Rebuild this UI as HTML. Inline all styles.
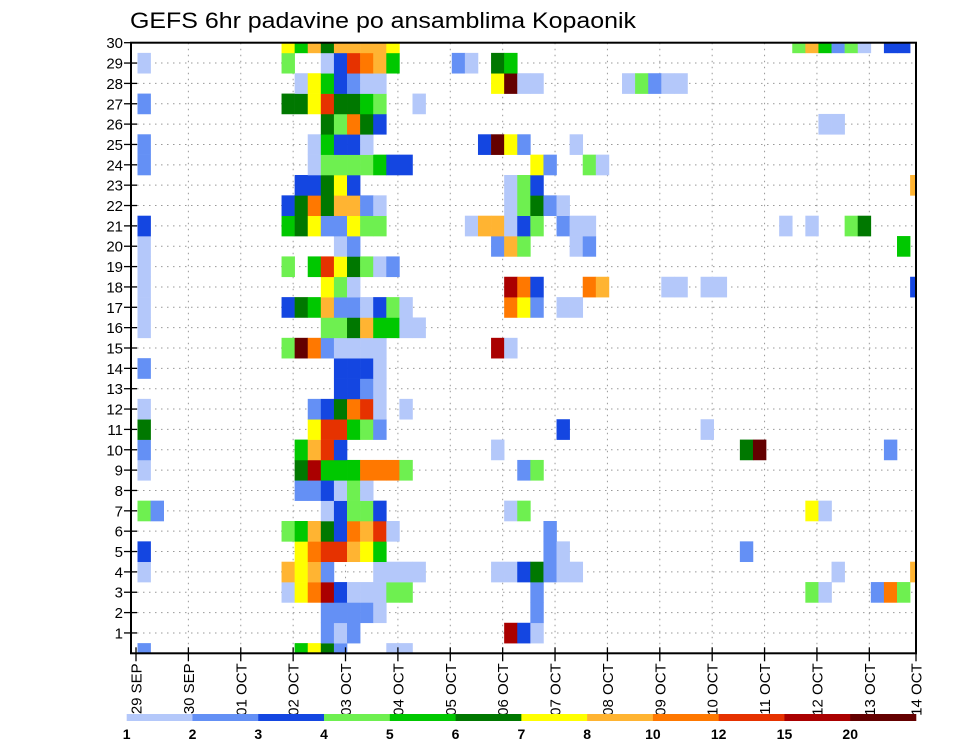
<!DOCTYPE html>
<html>
<head>
<meta charset="utf-8">
<style>
  html,body{margin:0;padding:0;background:#fff;}
  svg{display:block;font-family:"Liberation Sans",sans-serif;}
</style>
</head>
<body>
<svg id="chart" width="960" height="742" viewBox="0 0 960 742" xmlns="http://www.w3.org/2000/svg">
  <text x="130" y="28" font-size="22" textLength="506" lengthAdjust="spacingAndGlyphs" fill="#000">GEFS 6hr padavine po ansamblima Kopaonik</text>
  <g id="grid"></g>
  <g id="cells"></g>
  <g id="axes"></g>
  <g id="legend"></g>
</svg>
<script>
// ---- data ----
const dayLabels = ["29 SEP","30 SEP","01 OCT","02 OCT","03 OCT","04 OCT","05 OCT","06 OCT","07 OCT","08 OCT","09 OCT","10 OCT","11 OCT","12 OCT","13 OCT","14 OCT"];
const memberTicks = [1,2,3,4,5,6,7,8,9,10,11,12,13,14,15,16,17,18,19,20,21,22,23,24,25,26,27,28,29,30];
const binLabels = ["1","2","3","4","5","6","7","8","10","12","15","20"];
const binColors = ["#b4c8fa","#6490f5","#1446e1","#6ef050","#00c800","#007800","#ffff00","#ffb432","#ff7800","#e63200","#aa0000","#640000"];
const binCodes = "123456789ABC";
// per ensemble member (index 0..30): "step:bin" pairs, step = 6h index from 29 SEP 00z
const memberCells = [
/*0*/  "0:2 12:5 13:7 14:6 15:2 19:1 20:1",
/*1*/  "14:2 15:1 16:2 28:B 29:3 30:1",
/*2*/  "14:2 15:2 16:2 17:2 18:1 30:2",
/*3*/  "11:1 12:7 13:9 14:B 15:3 16:1 17:1 18:1 19:4 20:4 30:2 51:4 52:1 56:2 57:9 58:4",
/*4*/  "0:1 11:8 12:7 13:8 14:2 18:1 19:1 20:1 21:1 27:1 28:1 29:3 30:6 31:2 32:1 33:1 53:1 59:8",
/*5*/  "0:3 12:7 13:9 14:A 15:A 16:8 17:7 18:5 31:2 32:1 46:2",
/*6*/  "11:4 12:5 13:8 14:6 15:3 16:9 17:8 18:A 19:1 31:2",
/*7*/  "0:4 1:2 14:1 15:3 16:4 17:4 18:3 28:1 29:4 51:7 52:1",
/*8*/  "12:2 13:2 14:3 15:1 16:4 17:1",
/*9*/  "0:1 12:6 13:B 14:5 15:5 16:5 17:9 18:9 19:9 20:4 29:2 30:4",
/*10*/ "0:2 12:5 13:8 14:A 15:3 27:1 46:6 47:C 57:2",
/*11*/ "0:6 13:7 14:A 15:A 16:5 17:4 18:2 32:3 43:1",
/*12*/ "0:1 13:2 14:3 15:6 16:9 17:A 18:1 20:1",
/*13*/ "15:3 16:3 17:2 18:1",
/*14*/ "0:2 15:3 16:3 17:3 18:1",
/*15*/ "11:4 12:C 13:9 14:2 15:1 16:1 17:1 18:1 27:B 28:1",
/*16*/ "0:1 14:4 15:4 16:6 17:8 18:5 19:5 20:1 21:1",
/*17*/ "0:1 11:3 12:6 13:5 14:8 15:2 16:2 17:1 18:3 19:4 20:1 28:9 29:7 30:2 32:1 33:1",
/*18*/ "0:1 14:7 15:4 16:1 28:B 29:9 30:3 34:9 35:8 40:1 41:1 43:1 44:1 59:3",
/*19*/ "0:1 11:4 13:5 14:A 15:7 16:6 17:4 18:1 19:2",
/*20*/ "0:1 15:1 16:2 27:2 28:8 29:4 33:1 34:2 58:5",
/*21*/ "0:3 11:5 12:6 13:7 14:2 15:2 16:7 17:4 18:4 25:1 26:8 27:8 28:1 29:3 30:4 32:2 33:1 34:1 49:1 51:1 54:4 55:6",
/*22*/ "11:3 12:6 13:9 14:6 15:8 16:8 17:2 18:1 28:1 29:4 30:6 31:2 32:1",
/*23*/ "12:3 13:3 14:6 15:7 16:3 28:1 29:4 30:3 59:8",
/*24*/ "0:2 13:1 14:4 15:4 16:4 17:4 18:5 19:3 20:3 30:7 31:2 34:4 35:1",
/*25*/ "0:2 13:1 14:5 15:3 16:3 17:1 26:3 27:C 28:7 29:2 33:1",
/*26*/ "14:6 15:4 16:9 17:6 18:3 52:1 53:1",
/*27*/ "0:2 11:6 12:6 13:7 14:A 15:6 16:6 17:5 18:4 21:1",
/*28*/ "12:1 13:7 14:5 15:3 16:2 17:1 18:1 27:7 28:C 29:1 30:1 37:1 38:4 39:2 40:1 41:1",
/*29*/ "0:1 11:4 14:1 15:3 16:A 17:9 18:8 19:5 24:2 25:1 27:6 28:5",
/*30*/ "11:7 12:5 13:8 14:6 15:8 16:8 17:8 18:8 19:7 50:4 51:8 52:5 53:2 54:4 55:1 57:3 58:3"
];

// ---- geometry ----
const frameL = 131, frameR = 916, frameT = 42.7, frameB = 653.3;
const day0X = 136, dayW = 52.38, stepW = dayW / 4, cellX0 = 137.5;
const rowH = (frameB - frameT) / 30;
const NS = "http://www.w3.org/2000/svg";
function xDay(d){ return day0X + dayW * d; }
function xStep(k){ return cellX0 + stepW * k; }
function yMember(m){ return frameB - rowH * m; }
function mk(tag, attrs, parent){
  const el = document.createElementNS(NS, tag);
  for (const a in attrs) el.setAttribute(a, attrs[a]);
  parent.appendChild(el);
  return el;
}

// grid lines
const grid = document.getElementById("grid");
memberTicks.forEach(function(m){
  if (m >= 30) return;
  const ln = mk("line", {x1: frameL, x2: frameR, y1: yMember(m), y2: yMember(m), stroke: "#999", "stroke-width": 1, "stroke-dasharray": "1.5,4.5"}, grid);
  
  
});
dayLabels.forEach(function(lbl, d){
  const x = xDay(d);
  if (x <= frameL + 6 || x >= frameR - 2) return;
  const ln = mk("line", {x1: x, x2: x, y1: frameT, y2: frameB, stroke: "#999", "stroke-width": 1, "stroke-dasharray": "1.5,4.5"}, grid);
  
  
});

// cells
const cells = document.getElementById("cells");
const clip = mk("clipPath", {id: "plotclip"}, document.getElementById("chart"));
mk("rect", {x: frameL, y: frameT, width: frameR - frameL, height: frameB - frameT}, clip);
cells.setAttribute("clip-path", "url(#plotclip)");
memberCells.forEach(function(rowStr, m){
  rowStr.split(" ").forEach(function(pair){
    if (!pair) return;
    const parts = pair.split(":");
    const k = parseInt(parts[0], 10);
    const lvl = binCodes.indexOf(parts[1]);
    if (lvl < 0) return;
    const r = mk("rect", {x: xStep(k), y: yMember(m) - rowH/2, width: stepW + 0.3, height: rowH + 0.3, fill: binColors[lvl]}, cells);
    
    
  });
});

// axes
const axes = document.getElementById("axes");
const frame = mk("rect", {x: frameL, y: frameT, width: frameR - frameL, height: frameB - frameT, fill: "none", stroke: "#000", "stroke-width": 2}, axes);


memberTicks.forEach(function(m){
  const y = yMember(m);
  const t = mk("line", {x1: frameL - 7, x2: frameL + 6, y1: y, y2: y, stroke: "#000", "stroke-width": 1.3}, axes);
  
  
  const tx = mk("text", {x: frameL - 8, y: y + 5.5, "font-size": 15, "text-anchor": "end", fill: "#000"}, axes);
  tx.textContent = String(m);
  
  
});
dayLabels.forEach(function(lbl, d){
  const x = Math.min(xDay(d), frameR);
  const t = mk("line", {x1: x, x2: x, y1: frameB - 6, y2: frameB + 8, stroke: "#000", "stroke-width": 1.3}, axes);
  
  
  const tx = mk("text", {x: 0, y: 0, "font-size": 15, "text-anchor": "end", fill: "#000", transform: "translate(" + (x + 5.5) + "," + (frameB + 10) + ") rotate(-90)"}, axes);
  tx.textContent = lbl;
  
  
});

// legend
const legend = document.getElementById("legend");
const legX0 = 126.7, legW = (916 - 126.7) / binColors.length;
binColors.forEach(function(col, i){
  const r = mk("rect", {x: legX0 + legW * i, y: 714, width: legW + 0.3, height: 7, fill: col}, legend);
  
  
});
binLabels.forEach(function(lbl, i){
  const tx = mk("text", {x: legX0 + legW * i, y: 739, "font-size": 14, "font-weight": "bold", "text-anchor": "middle", fill: "#000"}, legend);
  tx.textContent = lbl;
  
  
});
</script>
</body>
</html>
